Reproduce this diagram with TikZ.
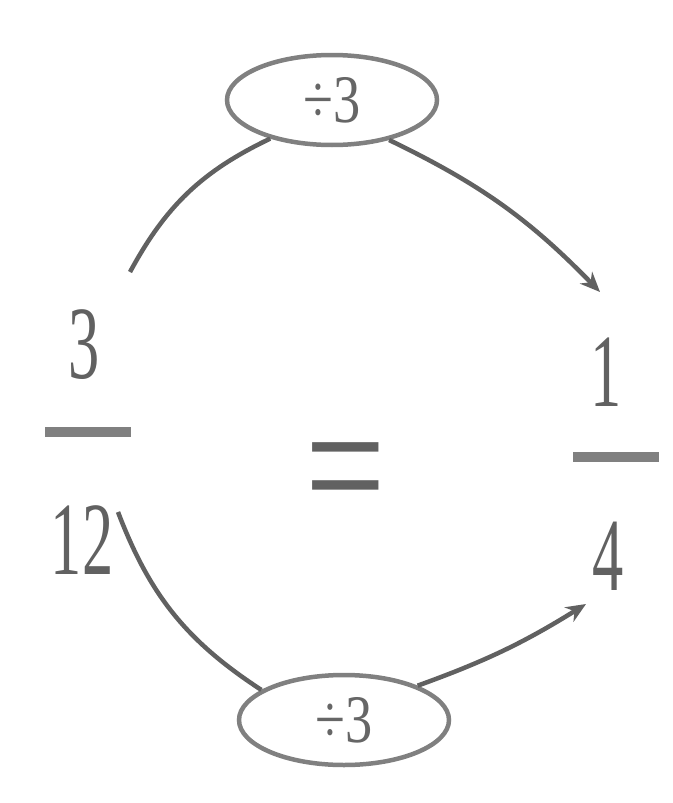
\documentclass[tikz,border=0pt]{standalone}
\usepackage{fontspec}
\setmainfont{Liberation Serif}
\usetikzlibrary{shapes.geometric,arrows.meta}
\begin{document}
\begin{tikzpicture}[x=1pt,y=-1pt,
  digit/.style={text=black!62, font=\fontsize{104}{104}\selectfont, xscale=0.6, inner sep=0pt},
  oplabel/.style={ellipse, draw=black!50, line width=4.5pt, minimum width=210pt, minimum height=90pt, inner sep=0pt, text=black!60, font=\fontsize{68}{68}\selectfont},
  fracbar/.style={fill=black!50, minimum width=86pt, minimum height=10pt, inner sep=0pt},
  conn/.style={draw=black!62, line width=4.5pt},
  tip/.style={-{Stealth[length=20pt,width=17pt]}}]
\useasboundingbox (0,0) rectangle (672,803);
\node[oplabel] (top) at (332,100) {\scalebox{0.8}[1]{÷3}};
\node[oplabel] (bot) at (344,720) {\scalebox{0.8}[1]{÷3}};
\node[digit] (n3) at (84,345) {3};
\node[fracbar] (barL) at (88,432) {};
\node[digit] (d12) at (82,540) {12};
\node[digit] (n1) at (606,372) {1};
\node[fracbar] (barR) at (616,457) {};
\node[digit] (d4) at (608,556) {4};
\node[digit, font=\fontsize{190}{190}\selectfont, xscale=1.25] (eq) at (346,486) {=};
\coordinate (s1) at (130,272);
\coordinate (e1) at (600,292);
\coordinate (s2) at (118,512);
\coordinate (e2) at (586,604);
\draw[conn] (s1) to[bend left=18] (top.212);
\draw[conn,tip] (top.-35) to[bend left=10] (e1);
\draw[conn] (s2) to[bend right=18] (bot.160);
\draw[conn,tip] (bot.25) to[bend right=6] (e2);
\end{tikzpicture}
\end{document}
